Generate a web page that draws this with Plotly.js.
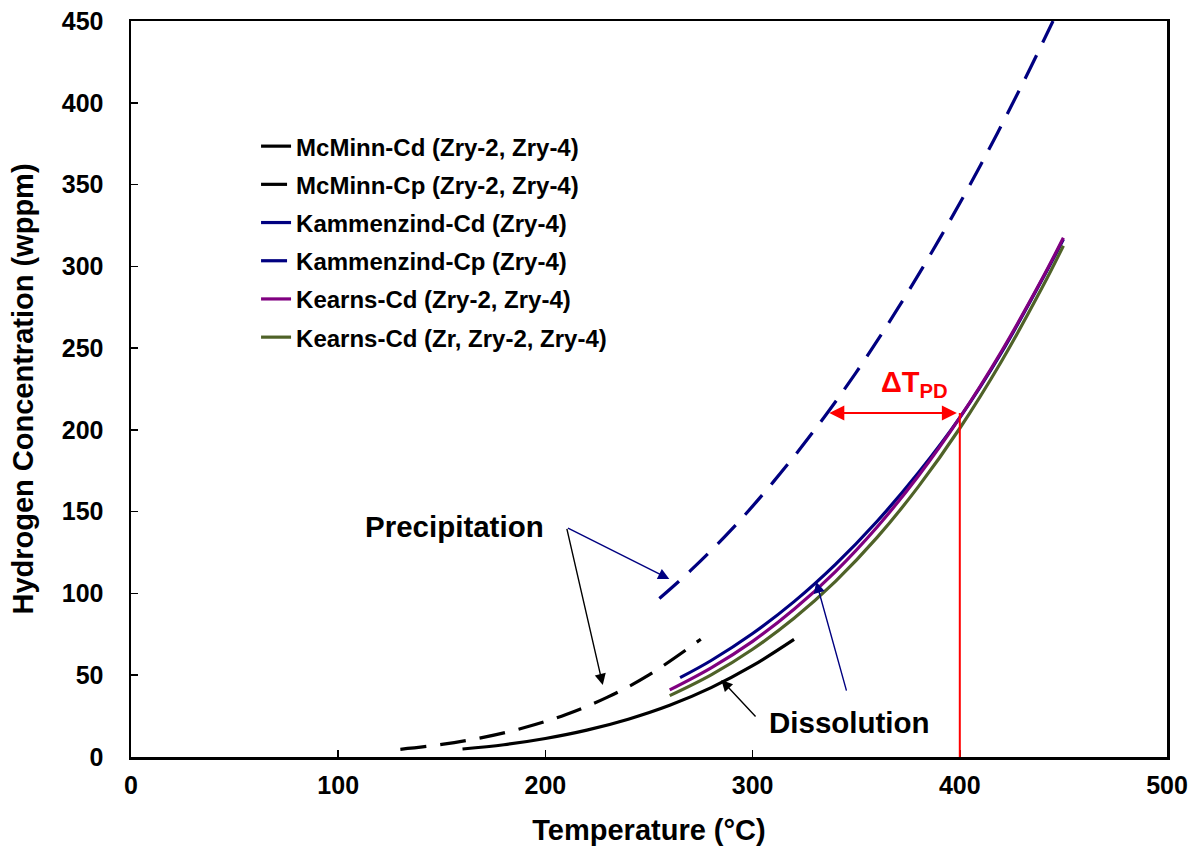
<!DOCTYPE html>
<html>
<head>
<meta charset="utf-8">
<script src="https://cdn.plot.ly/plotly-3.0.1.min.js"></script>
<style>
  html, body { margin: 0; padding: 0; background: #ffffff; }
  #chart { width: 1194px; height: 859px; }
</style>
</head>
<body>
<div id="chart"></div>
<script>
// ---- Data ----
// Temperature (°C) / Hydrogen concentration (wppm)
const mcminnCdT = [160, 180, 200, 220, 240, 260, 280, 300, 320];
const mcminnCdC = [4.9, 7.5, 11.3, 16.4, 23.1, 31.6, 42.4, 55.8, 71.9];

const mcminnCpT = [130, 150, 170, 190, 210, 230, 250, 275];
const mcminnCpC = [4.7, 7.7, 12.0, 18.0, 26.0, 36.6, 50.2, 72.0];

const kammCdT = [265, 280, 300, 320, 340, 360, 380, 400, 420, 440, 450];
const kammCdC = [48.5, 59.0, 75.5, 95.0, 117.8, 144.0, 173.8, 207.5, 247.0, 292.5, 316.5];

const kammCpT = [255, 270, 290, 310, 330, 350, 370, 390, 410, 430, 445];
const kammCpC = [96.9, 113.9, 139.3, 168.2, 200.1, 235.2, 274.1, 316.3, 361.8, 410.9, 450.0];

const kearns1T = [260, 280, 300, 320, 340, 360, 380, 400, 420, 440, 450];
const kearns1C = [41.0, 54.5, 70.7, 90.3, 113.4, 140.5, 171.8, 207.5, 247.8, 293.0, 317.5];

const kearns2T = [260, 280, 300, 320, 340, 360, 380, 400, 420, 440, 450];
const kearns2C = [37.5, 50.2, 65.9, 84.8, 107.4, 134.1, 165.3, 201.0, 241.7, 287.6, 312.6];

const seriesNames = [
  'McMinn-Cd (Zry-2, Zry-4)',
  'McMinn-Cp (Zry-2, Zry-4)',
  'Kammenzind-Cd (Zry-4)',
  'Kammenzind-Cp (Zry-4)',
  'Kearns-Cd (Zry-2, Zry-4)',
  'Kearns-Cd (Zr, Zry-2, Zry-4)'
];

// ΔT_PD marker: temperature pair and concentration level
const deltaTFrom = 336.3;
const deltaTTo = 400;
const deltaTLevel = 210.3;

const xTickVals = [0, 100, 200, 300, 400, 500];
const yTickVals = [0, 50, 100, 150, 200, 250, 300, 350, 400, 450];

// ---- Styles ----
const FONT = 'Liberation Sans, Arial, Helvetica, sans-serif';
const NAVY = '#000080', PURPLE = '#800080', GREEN = '#4F6228', RED = '#FF0000';
const DASH = '26px,14px';

function tr(x, y, name, color, dash, grp) {
  return {
    x: x, y: y, name: name, type: 'scatter', mode: 'lines',
    line: {color: color, width: 3.2, dash: dash, shape: 'spline', smoothing: 1},
    legendgroup: grp, hoverinfo: 'skip'
  };
}

const data = [
  tr(mcminnCdT, mcminnCdC, seriesNames[0], '#000000', 'solid', 'g1'),
  tr(mcminnCpT, mcminnCpC, seriesNames[1], '#000000', DASH, 'g2'),
  tr(kammCdT, kammCdC, seriesNames[2], NAVY, 'solid', 'g3'),
  tr(kammCpT, kammCpC, seriesNames[3], NAVY, DASH, 'g4'),
  tr(kearns1T, kearns1C, seriesNames[4], PURPLE, 'solid', 'g5'),
  tr(kearns2T, kearns2C, seriesNames[5], GREEN, 'solid', 'g6')
];

function arrow(hx, hy, tx, ty, color) {
  return {
    x: hx, y: hy, ax: tx, ay: ty, xref: 'x', yref: 'y', axref: 'x', ayref: 'y',
    text: '', showarrow: true, arrowhead: 2, arrowsize: 1.6, arrowwidth: 1.4,
    arrowcolor: color, standoff: 0, startstandoff: 0
  };
}

const annotations = [
  {x: 156.3, y: 141, xref: 'x', yref: 'y', text: 'Precipitation', showarrow: false,
   font: {family: FONT, size: 29.5, weight: 700, color: '#000000'}},
  {x: 346.9, y: 20.8, xref: 'x', yref: 'y', text: 'Dissolution', showarrow: false,
   font: {family: FONT, size: 29.5, weight: 700, color: '#000000'}},
  arrow(259.8, 108.8, 210.2, 140.4, NAVY),
  arrow(227.7, 44.0, 210.2, 140.4, '#000000'),
  arrow(284.9, 47.1, 302.1, 23.8, '#000000'),
  arrow(330.7, 107.2, 345.5, 39.7, NAVY),
  {x: 378.3, y: 228, xref: 'x', yref: 'y', text: 'ΔT<sub>PD</sub>', showarrow: false,
   font: {family: FONT, size: 29, weight: 700, color: RED}},
  {x: deltaTTo - 1.4, y: deltaTLevel, ax: deltaTFrom, ay: deltaTLevel,
   xref: 'x', yref: 'y', axref: 'x', ayref: 'y', text: '', showarrow: true,
   arrowhead: 2, startarrowhead: 2, arrowside: 'end+start', arrowsize: 1.5, startarrowsize: 1.5,
   arrowwidth: 2, arrowcolor: RED, standoff: 0, startstandoff: 0}
];

const shapes = [
  {type: 'line', xref: 'x', yref: 'y', x0: deltaTTo, x1: deltaTTo, y0: 0, y1: deltaTLevel,
   line: {color: RED, width: 2}}
];

const axisCommon = {
  showgrid: false, zeroline: false, showline: true, linecolor: '#000000', linewidth: 2.5,
  mirror: true, ticks: 'inside', ticklen: 7, tickwidth: 1.5, tickcolor: '#000000',
  tickfont: {family: FONT, size: 25, weight: 700, color: '#000000'}
};

const layout = {
  width: 1194, height: 859,
  margin: {l: 131, r: 27, t: 21, b: 102, pad: 0},
  paper_bgcolor: '#ffffff', plot_bgcolor: '#ffffff',
  font: {family: FONT, color: '#000000'},
  showlegend: true,
  legend: {
    x: 0.1207, y: 0.860, xanchor: 'left', yanchor: 'top',
    bgcolor: 'rgba(0,0,0,0)', borderwidth: 0,
    font: {family: FONT, size: 24, weight: 700, color: '#000000'},
    traceorder: 'grouped', tracegroupgap: 4, itemwidth: 30
  },
  xaxis: Object.assign({}, axisCommon, {
    range: [0, 500], tickvals: xTickVals, ticktext: xTickVals.map(String),
    ticklabelstandoff: 4,
    title: {text: 'Temperature (°C)', font: {family: FONT, size: 29, weight: 700, color: '#000000'}, standoff: 22}
  }),
  yaxis: Object.assign({}, axisCommon, {
    range: [0, 450], tickvals: yTickVals, ticktext: yTickVals.map(String),
    ticklabelstandoff: 20,
    title: {text: 'Hydrogen Concentration (wppm)', font: {family: FONT, size: 29, weight: 700, color: '#000000'}, standoff: 20}
  }),
  annotations: annotations,
  shapes: shapes
};

Plotly.newPlot('chart', data, layout, {displayModeBar: false, staticPlot: true});
</script>
</body>
</html>
